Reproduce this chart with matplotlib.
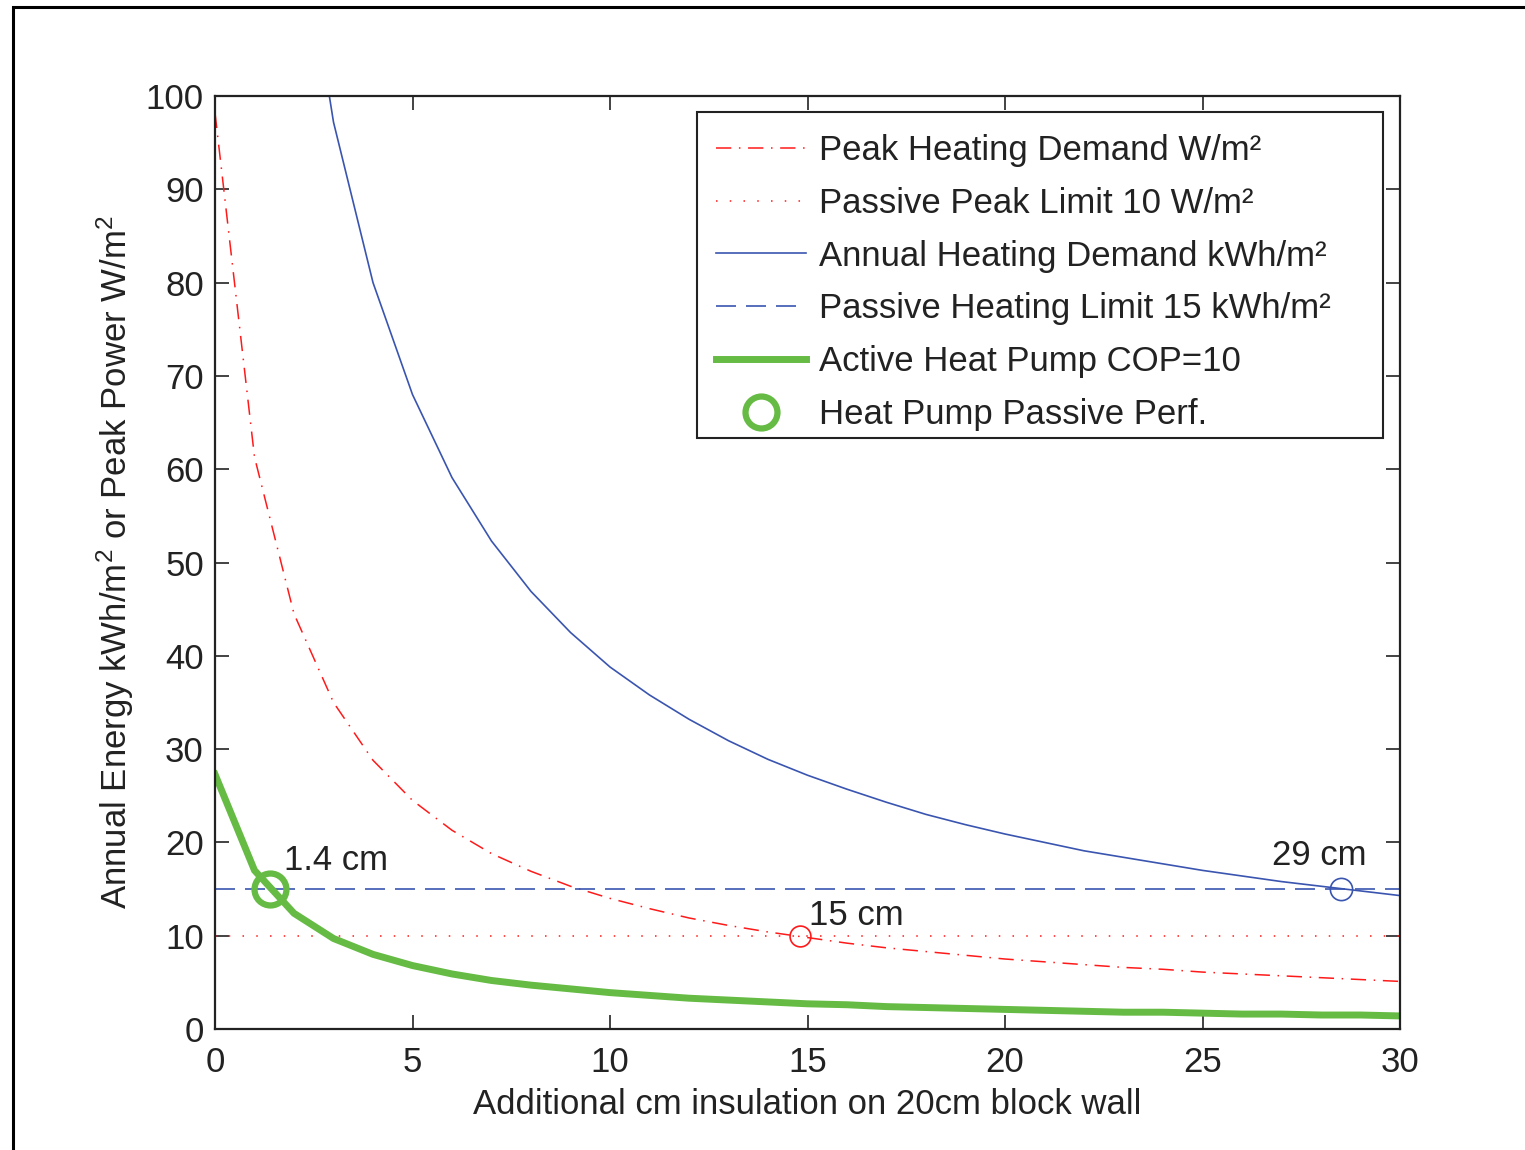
import matplotlib
matplotlib.use("Agg")
import matplotlib.pyplot as plt
from matplotlib.patches import Rectangle

plt.rcParams['font.family'] = ['Liberation Sans', 'DejaVu Sans']
plt.rcParams['mathtext.fontset'] = 'custom'
plt.rcParams['mathtext.rm'] = 'Liberation Sans'
plt.rcParams['mathtext.it'] = 'Liberation Sans'
plt.rcParams['mathtext.default'] = 'regular'

insulation_cm = list(range(0, 31))
annual_demand = [272.9, 170.3, 123.8, 97.2, 80.0, 68.0, 59.1, 52.3, 46.9, 42.5,
                 38.8, 35.8, 33.2, 30.9, 28.9, 27.2, 25.7, 24.3, 23.0, 21.9,
                 20.9, 20.0, 19.1, 18.4, 17.7, 17.0, 16.4, 15.8, 15.3, 14.8, 14.3]
peak_demand = [98.2, 61.3, 44.5, 35.0, 28.8, 24.5, 21.3, 18.8, 16.9, 15.3,
               14.0, 12.9, 11.9, 11.1, 10.4, 9.8, 9.2, 8.7, 8.3, 7.9,
               7.5, 7.2, 6.9, 6.6, 6.4, 6.1, 5.9, 5.7, 5.5, 5.3, 5.1]
heat_pump = [27.3, 17.0, 12.4, 9.7, 8.0, 6.8, 5.9, 5.2, 4.7, 4.3,
             3.9, 3.6, 3.3, 3.1, 2.9, 2.7, 2.6, 2.4, 2.3, 2.2,
             2.1, 2.0, 1.9, 1.8, 1.8, 1.7, 1.6, 1.6, 1.5, 1.5, 1.4]
peak_limit = 10
heating_limit = 15
hp_point = (1.4, 15)
peak_point = (14.8, 10)
annual_point = (28.5, 15)
x_ticks = [0, 5, 10, 15, 20, 25, 30]
y_ticks = [0, 10, 20, 30, 40, 50, 60, 70, 80, 90, 100]

RED = '#ff1a1a'
BLUE = '#3a55b0'
GREEN = '#66bb44'
TXT = '#222222'
FS = 25

fig = plt.figure(figsize=(15.25, 11.5), dpi=100)
fig.patches.append(Rectangle((13/1525, -0.1), 1.2, 1 - 7/1150 + 0.1,
                             transform=fig.transFigure, fill=False,
                             edgecolor='black', linewidth=2.2, figure=fig))
ax = fig.add_axes([215/1525, 1 - 1029/1150, (1400-215)/1525, (1029-96)/1150])

ax.plot(insulation_cm, peak_demand, color=RED, lw=1.1, dashes=(10, 5, 1, 5),
        label='Peak Heating Demand W/m²')
ax.plot([0, 30], [peak_limit, peak_limit], color=RED, lw=1.1, dashes=(1, 8),
        label='Passive Peak Limit 10 W/m²')
ax.plot(insulation_cm, annual_demand, color=BLUE, lw=1.2,
        label='Annual Heating Demand kWh/m²')
ax.plot([0, 30], [heating_limit, heating_limit], color=BLUE, lw=1.2, dashes=(12, 6),
        label='Passive Heating Limit 15 kWh/m²')
ax.plot(insulation_cm, heat_pump, color=GREEN, lw=5, solid_joinstyle='miter',
        label='Active Heat Pump COP=10')
ax.plot([hp_point[0]], [hp_point[1]], 'o', mfc='none', mec=GREEN, ms=23, mew=4.5,
        label='Heat Pump Passive Perf.')
ax.plot([peak_point[0]], [peak_point[1]], 'o', mfc='none', mec=RED, ms=15, mew=1.2)
ax.plot([annual_point[0]], [annual_point[1]], 'o', mfc='none', mec=BLUE, ms=16, mew=1.2)

ax.text(1.75, 17.0, '1.4 cm', fontsize=FS, color=TXT)
ax.text(15.05, 11.2, '15 cm', fontsize=FS, color=TXT)
ax.text(26.75, 17.6, '29 cm', fontsize=FS, color=TXT)

ax.set_xlim(0, 30)
ax.set_ylim(0, 100)
ax.set_xticks(x_ticks)
ax.set_yticks(y_ticks)
ax.tick_params(direction='in', length=10, width=1.2, top=True, right=True,
               labelsize=FS, colors=TXT, pad=8)
ax.tick_params(axis='x', pad=12)
for s in ax.spines.values():
    s.set_linewidth(1.6)
    s.set_color(TXT)

ax.set_xlabel('Additional cm insulation on 20cm block wall', fontsize=FS,
              color=TXT, labelpad=7)
ax.set_ylabel('Annual Energy kWh/m$^2$ or Peak Power W/m$^2$', fontsize=FS,
              color=TXT, labelpad=7)

# legend frame (MATLAB-style box) and entries
lx0, lx1 = (697-215)/1185, (1383-215)/1185
ly0, ly1 = (1029-438)/933, (1029-112)/933
ax.add_patch(Rectangle((lx0, ly0), lx1 - lx0, ly1 - ly0, transform=ax.transAxes,
                       facecolor='white', edgecolor=TXT, linewidth=1.5, zorder=4))
leg = ax.legend(loc='upper left', bbox_to_anchor=((716-215)/1185, (1029-134)/933),
                borderaxespad=0, fontsize=FS, frameon=False,
                handlelength=2.6, handletextpad=0.37,
                labelspacing=0.57, borderpad=0, numpoints=1)
leg.set_zorder(5)
for t in leg.get_texts():
    t.set_color(TXT)

fig.savefig('out.png', dpi=100)
